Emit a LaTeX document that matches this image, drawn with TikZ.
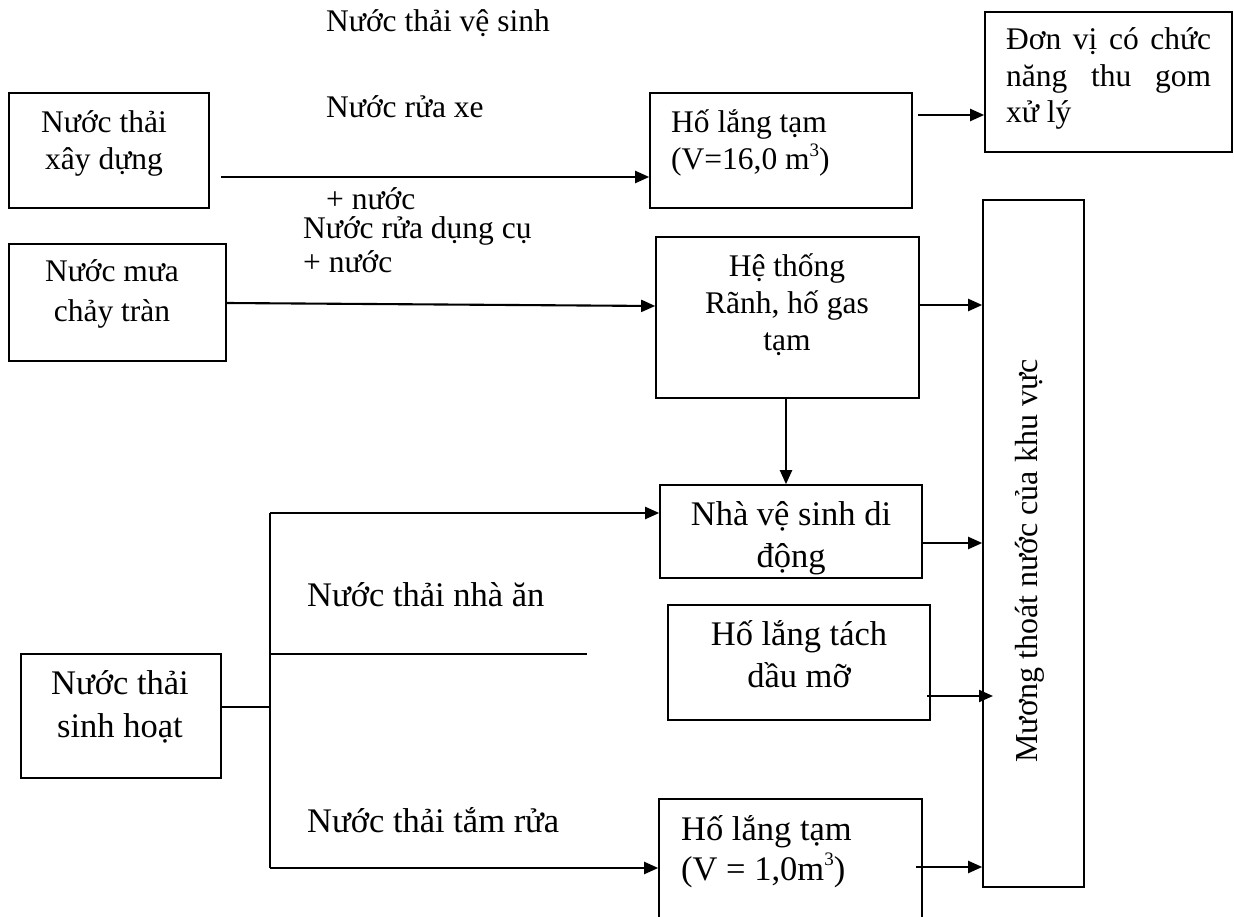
\documentclass[tikz,border=0pt]{standalone}
\usepackage{fontspec}
\setmainfont{Liberation Serif}
\usetikzlibrary{arrows.meta,calc}
\newcommand{\supthree}{\raisebox{0.42em}{\fontsize{19}{19}\selectfont 3}}
\begin{document}
\begin{tikzpicture}[x=1pt,y=-1pt,
  box/.style={draw=black,line width=1.6pt,inner sep=0pt,rectangle},
  ln/.style={line width=2.1pt},
  arr/.style={line width=2.1pt,-{Triangle[length=14pt,width=12pt]}},
  fa/.style={inner sep=0pt,font=\fontsize{31.5}{37}\selectfont},
  fb/.style={inner sep=0pt,font=\fontsize{34.5}{42}\selectfont}]
\useasboundingbox (0,0) rectangle (1234,917);
\clip (0,0) rectangle (1234,917);
\fill[white] (0,0) rectangle (1234,917);

% boxes
\node[box,minimum width=200pt,minimum height=115pt] (A) at (109,150.5) {};
\node[box,minimum width=217pt,minimum height=117pt] (B) at (117.5,302.5) {};
\node[box,minimum width=262pt,minimum height=115pt] (H16) at (781,150.5) {};
\node[box,minimum width=247pt,minimum height=140pt] (DV) at (1108.5,82) {};
\node[box,minimum width=263pt,minimum height=161pt] (HT) at (787.5,317.5) {};
\node[box,minimum width=101pt,minimum height=687pt] (M) at (1033.5,543.5) {};
\node[box,minimum width=262pt,minimum height=93pt] (NVS) at (791,531.5) {};
\node[box,minimum width=262pt,minimum height=115pt] (HLT) at (799,662.5) {};
\node[box,minimum width=200pt,minimum height=124pt] (SH) at (121,716) {};
\node[box,minimum width=263pt,minimum height=140pt] (H1) at (790.5,869) {};

% texts
\node[fa,anchor=base west] (t1) at (326,32) {Nước thải vệ sinh};
\node[fa,anchor=base west] (t2) at (326,118) {Nước rửa xe};
\node[fa,anchor=base west] (t3) at (326,210) {+ nước};
\node[fa,anchor=base west] (t4) at (303,239) {Nước rửa dụng cụ};
\node[fa,anchor=base west] (t5) at (303,273) {+ nước};

\node[fa,anchor=base] (a1) at (104,133) {Nước thải};
\node[fa,anchor=base] (a2) at (104,170) {xây dựng};
\node[fa,anchor=base] (b1) at (112,282) {Nước mưa};
\node[fa,anchor=base] (b2) at (112,321) {chảy tràn};
\node[fa,anchor=base west] (h1) at (671,133) {Hố lắng tạm};
\node[fa,anchor=base west] (h2) at (671,170) {(V=16,0 m\supthree)};
\node[fa,anchor=base west] (d1) at (1006,50) {\makebox[205pt][s]{Đơn vị có chức}};
\node[fa,anchor=base west] (d2) at (1006,87) {\makebox[205pt][s]{năng thu gom}};
\node[fa,anchor=base west] (d3) at (1006,123) {xử lý};
\node[fa,anchor=base] (g1) at (787,277) {Hệ thống};
\node[fa,anchor=base] (g2) at (787,313) {Rãnh, hố gas};
\node[fa,anchor=base] (g3) at (787,350) {tạm};
\node[inner sep=0pt,font=\fontsize{32}{38}\selectfont,rotate=90,anchor=base] (m1) at (1037,561) {Mương thoát nước của khu vực};

\node[fb,anchor=base] (n1) at (791,525) {Nhà vệ sinh di};
\node[fb,anchor=base] (n2) at (791,567) {động};
\node[fb,anchor=base] (l1) at (799,645) {Hố lắng tách};
\node[fb,anchor=base] (l2) at (799,687) {dầu mỡ};
\node[fb,anchor=base] (s1) at (120,694) {Nước thải};
\node[fb,anchor=base] (s2) at (120,737) {sinh hoạt};
\node[fb,anchor=base west] (e1) at (307,606) {Nước thải nhà ăn};
\node[fb,anchor=base west] (e2) at (307,832) {Nước thải tắm rửa};
\node[fb,anchor=base west] (k1) at (681,840) {Hố lắng tạm};
\node[fb,anchor=base west] (k2) at (681,880) {(V = 1,0m\supthree)};

% connector coordinates
\coordinate (c1) at (221,177);
\coordinate (c2a) at (226,303);
\coordinate (c2b) at (656,306);
\coordinate (c3) at (918,115);
\coordinate (c4) at (919,305);
\coordinate (c5) at (922,543);
\coordinate (c6a) at (927,696);
\coordinate (c6b) at (993,696);
\coordinate (c7) at (916,867);
\coordinate (j0) at (270,707);
\coordinate (jt) at (270,513);
\coordinate (jm) at (270,654);
\coordinate (jme) at (587,654);
\coordinate (jb) at (270,868);

% connectors
\draw[arr] (c1) -- (c1 -| H16.west);
\draw[arr] (B.east |- c2a) -- (HT.west |- c2b);
\draw[arr] (c3) -- (c3 -| DV.west);
\draw[arr] (HT.east |- c4) -- (M.west |- c4);
\draw[arr] (HT.south -| 786,0) -- (NVS.north -| 786,0);
\draw[arr] (NVS.east |- c5) -- (M.west |- c5);
\draw[arr] (c6a) -- (c6b);
\draw[arr] (c7) -- (c7 -| M.west);
\draw[ln] (SH.east |- j0) -- (j0);
\draw[ln] (jt) -- (jb);
\draw[arr] (jt) -- (jt -| NVS.west);
\draw[ln] (jm) -- (jme);
\draw[arr] (jb) -- (jb -| H1.west);
\end{tikzpicture}
\end{document}
